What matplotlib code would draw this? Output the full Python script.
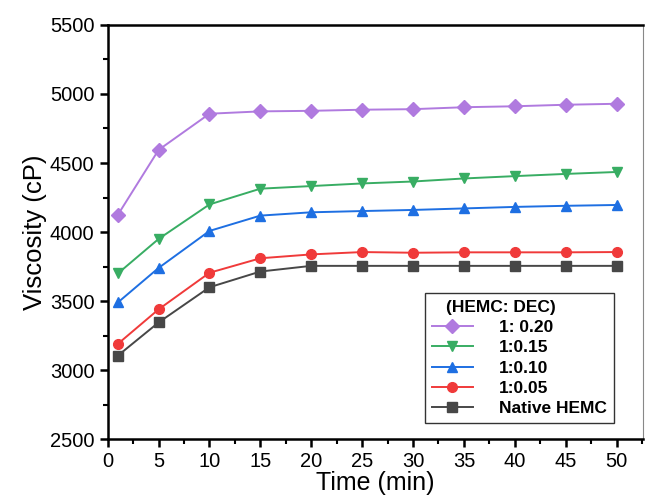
import matplotlib.pyplot as plt
from matplotlib.ticker import MultipleLocator

plt.rcParams["font.family"] = ["Liberation Sans", "DejaVu Sans"]

time_min = [1, 5, 10, 15, 20, 25, 30, 35, 40, 45, 50]

dec_020 = [4125, 4595, 4857, 4874, 4878, 4886, 4890, 4904, 4911, 4922, 4929]
dec_015 = [3700, 3950, 4200, 4314, 4333, 4352, 4366, 4388, 4405, 4421, 4435]
dec_010 = [3490, 3740, 4008, 4119, 4143, 4152, 4160, 4171, 4182, 4190, 4196]
dec_005 = [3190, 3440, 3705, 3810, 3838, 3855, 3850, 3853, 3853, 3853, 3855]
native = [3105, 3345, 3600, 3714, 3755, 3755, 3755, 3755, 3755, 3755, 3755]

series = [
    ("1: 0.20", dec_020, "#B07ADF", "D"),
    ("1:0.15", dec_015, "#38AD63", "v"),
    ("1:0.10", dec_010, "#1E6FE2", "^"),
    ("1:0.05", dec_005, "#F03A3A", "o"),
    ("Native HEMC", native, "#474747", "s"),
]

fig = plt.figure(figsize=(6.45, 4.99), dpi=100)
ax = fig.add_axes([0.167, 0.12, 0.83, 0.83])

for label, vals, color, marker in series:
    ax.plot(time_min, vals, color=color, marker=marker, markersize=7,
            linewidth=1.4, label=label)

ax.set_xlim(0, 52.6)
ax.set_ylim(2500, 5500)
ax.xaxis.set_major_locator(MultipleLocator(5))
ax.xaxis.set_minor_locator(MultipleLocator(2.5))
ax.yaxis.set_major_locator(MultipleLocator(500))
ax.yaxis.set_minor_locator(MultipleLocator(250))

ax.tick_params(which="major", direction="out", length=6, width=1.8, labelsize=14.5)
ax.tick_params(which="minor", direction="out", length=3.5, width=1.5)

for side in ["left", "bottom", "top"]:
    ax.spines[side].set_linewidth(1.8)
ax.spines["right"].set_linewidth(0.8)
ax.spines["right"].set_color("#888888")

ax.set_xlabel("Time (min)", fontsize=18, labelpad=0)
ax.set_ylabel("Viscosity (cP)", fontsize=18.5, labelpad=2)

leg = ax.legend(title="(HEMC: DEC)", loc="lower right",
                bbox_to_anchor=(0.946, 0.038), borderaxespad=0,
                prop={"weight": "bold", "size": 12.5},
                title_fontproperties={"weight": "bold", "size": 12.5},
                handlelength=2.4, handletextpad=1.5, labelspacing=0.3,
                fancybox=False, framealpha=1, borderpad=0.4)
leg._legend_box.align = "left"
leg.get_title().set_x(14)
leg.get_frame().set_edgecolor("#333333")
leg.get_frame().set_linewidth(1.0)

fig.savefig("out.png", dpi=100)
